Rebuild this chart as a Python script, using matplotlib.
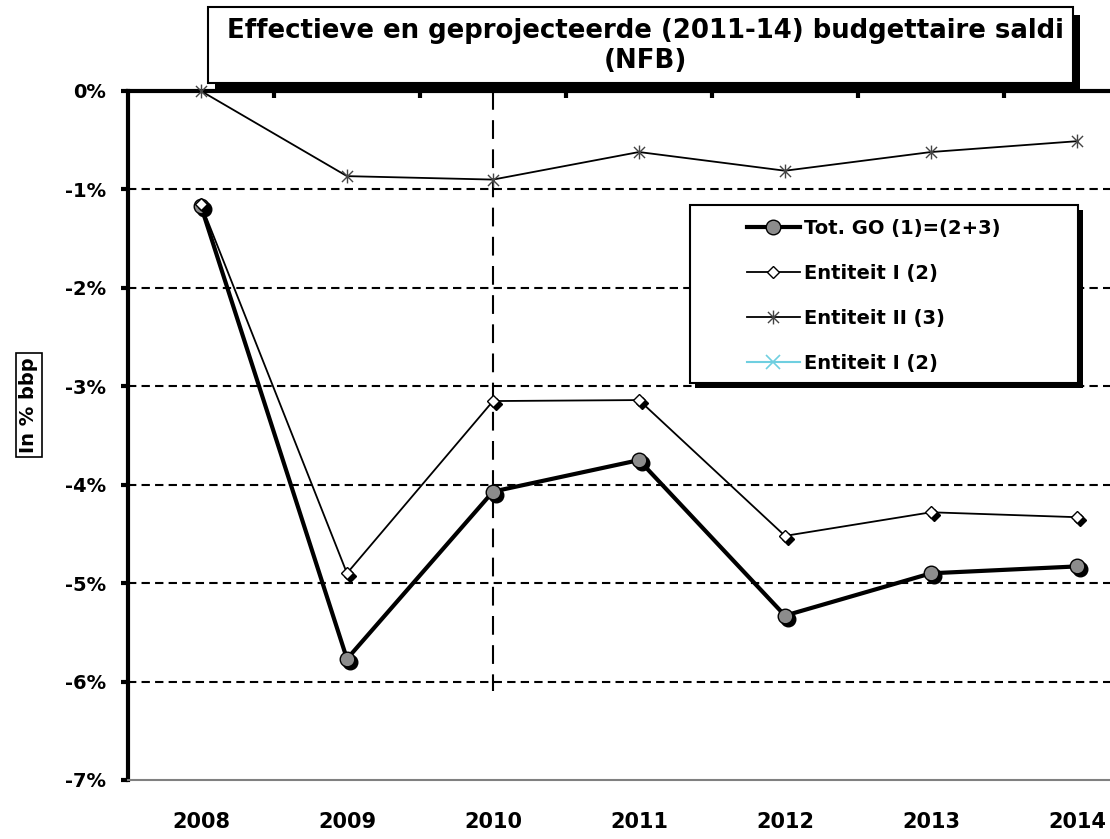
import matplotlib
matplotlib.use('Agg')
import matplotlib.pyplot as plt
from matplotlib.path import Path
from matplotlib.patches import Rectangle
from matplotlib.transforms import offset_copy
import numpy as np

# ---------------- data ----------------
years = [2008, 2009, 2010, 2011, 2012, 2013, 2014]
tot_go = [-1.17, -5.77, -4.07, -3.75, -5.33, -4.90, -4.83]
entiteit_1 = [-1.15, -4.90, -3.15, -3.14, -4.52, -4.28, -4.33]
entiteit_2 = [0.0, -0.865, -0.90, -0.62, -0.81, -0.62, -0.51]
entiteit_1b = []  # appears only in the legend
series_labels = ['Tot. GO (1)=(2+3)', 'Entiteit I (2)', 'Entiteit II (3)', 'Entiteit I (2)']
yticks = [0, -1, -2, -3, -4, -5, -6, -7]
ytick_labels = ['0%', '-1%', '-2%', '-3%', '-4%', '-5%', '-6%', '-7%']
grid_levels = [-1, -2, -3, -4, -5, -6]
split_year = 2010
split_bottom = -6.1
title = 'Effectieve en geprojecteerde (2011-14) budgettaire saldi\n(NFB)'
ylabel = 'In % bbp'

plt.rcParams['font.family'] = ['DejaVu Sans']
plt.rcParams['font.weight'] = 'bold'

W, H = 1110, 839
fig = plt.figure(figsize=(W / 100, H / 100), dpi=100)


def fx(px):
    return px / W


def fy(py):
    return 1 - py / H


ax = fig.add_axes([fx(128), fy(780), fx(1150) - fx(128), fy(91) - fy(780)])
ax.set_xlim(years[0] - 0.5, years[-1] + 0.5)
ax.set_ylim(-7, 0)

# spines
ax.spines['right'].set_visible(False)
ax.spines['top'].set_color('black')
ax.spines['top'].set_linewidth(3)
ax.spines['left'].set_color('black')
ax.spines['left'].set_linewidth(3)
ax.spines['bottom'].set_color('#808080')
ax.spines['bottom'].set_linewidth(1.5)

# ticks
ax.set_yticks(yticks, ytick_labels)
ax.tick_params(axis='y', direction='out', length=5, width=3, pad=11, labelsize=14)
ax.set_xticks(years, [str(y) for y in years])
ax.tick_params(axis='x', which='major', length=0, pad=23, labelsize=15, top=False)
ax.set_xticks(np.array(years[:-1]) + 0.5, minor=True)
ax.tick_params(axis='x', which='minor', top=True, bottom=False, direction='in',
               length=5, width=3)

# grid lines
for g in grid_levels:
    ax.axhline(g, color='black', lw=1.5, dashes=(4, 2.5), zorder=1)
ax.plot([split_year, split_year], [0, split_bottom], color='black', lw=1.5,
        dashes=(9, 5), zorder=1)

# series
star = Path([(0, -1), (0, 1), (-0.8, -0.8), (0.8, 0.8), (-0.8, 0.8), (0.8, -0.8)],
            [Path.MOVETO, Path.LINETO, Path.MOVETO, Path.LINETO, Path.MOVETO, Path.LINETO])
sh = offset_copy(ax.transData, fig=fig, x=3, y=-3, units='dots')

ax.plot(years, tot_go, ls='none', marker='o', ms=10.5, mfc='black', mec='black',
        transform=sh, zorder=4)
h1, = ax.plot(years, tot_go, color='black', lw=3, marker='o', ms=10.5, mfc='#8c8c8c',
              mec='black', mew=1, zorder=5)
ax.plot(years, entiteit_1, ls='none', marker='D', ms=6.5, mfc='black', mec='black',
        transform=sh, zorder=6)
h2, = ax.plot(years, entiteit_1, color='black', lw=1.3, marker='D', ms=6.5, mfc='white',
              mec='black', mew=1, zorder=7)
h3, = ax.plot(years, entiteit_2, color='black', lw=1.3, marker=star, ms=10,
              mec='#444444', mew=1, mfc='none', zorder=8, clip_on=False)
h4, = ax.plot(entiteit_1b, entiteit_1b, color='#6fcfe0', lw=1.5, marker='x', ms=10, mew=1.2)

# legend box
lx0, ly0, lx1, ly1 = 690, 205, 1078, 383
fig.add_artist(Rectangle((fx(lx0 + 5), fy(ly1 + 5)), fx(lx1) - fx(lx0), fy(ly0) - fy(ly1),
                         transform=fig.transFigure, fc='black', ec='none', zorder=9))
fig.add_artist(Rectangle((fx(lx0), fy(ly1)), fx(lx1) - fx(lx0), fy(ly0) - fy(ly1),
                         transform=fig.transFigure, fc='white', ec='black', lw=1.5, zorder=10))
leg = fig.legend([h1, h2, h3, h4], series_labels, loc='upper left',
                 bbox_to_anchor=(fx(747), fy(219)), bbox_transform=fig.transFigure,
                 frameon=False, borderpad=0, borderaxespad=0, handlelength=2.7,
                 handletextpad=0.25, labelspacing=1.34,
                 prop={'weight': 'bold', 'size': 14})
leg.set_zorder(12)

# title box
tx0, ty0, tx1, ty1 = 208, 7, 1073, 83
fig.add_artist(Rectangle((fx(tx0 + 7), fy(ty1 + 8)), fx(tx1) - fx(tx0), fy(ty0) - fy(ty1),
                         transform=fig.transFigure, fc='black', ec='none', zorder=9))
fig.add_artist(Rectangle((fx(tx0), fy(ty1)), fx(tx1) - fx(tx0), fy(ty0) - fy(ty1),
                         transform=fig.transFigure, fc='white', ec='black', lw=1.5, zorder=10))
fig.text(fx(645), fy(46), title, ha='center', va='center', fontsize=18.7,
         fontweight='bold', linespacing=1.2, zorder=11)

# y label
fig.text(fx(29), fy(405), ylabel, rotation=90, ha='center', va='center', fontsize=14,
         fontweight='bold',
         bbox=dict(boxstyle='square,pad=0.2', fc='white', ec='black', lw=1.2))

fig.savefig('out.png', dpi=100)
